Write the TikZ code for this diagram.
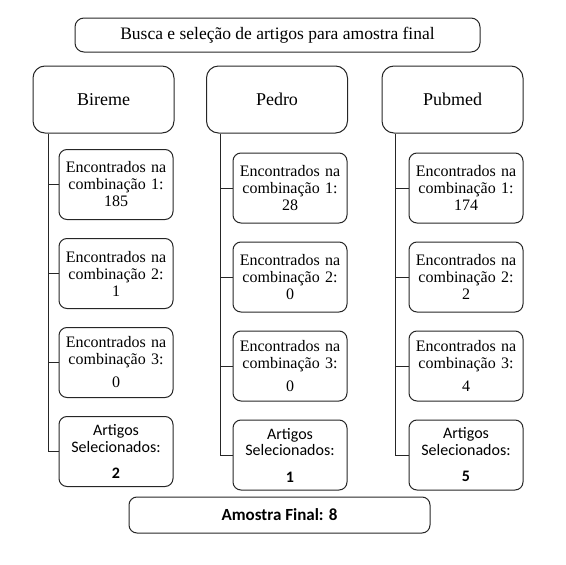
\documentclass[tikz,border=0pt]{standalone}
\usepackage{fontspec}
\setmainfont{Liberation Serif}
\newfontfamily\calibri{Carlito}
\usetikzlibrary{positioning}
\tikzset{
	box_base/.style = {
		rectangle,
		rounded corners=9pt,
		draw=black!85,
		line width=1pt,
		align=center,
		inner sep=0pt,
		text centered
	},
	box_title/.style = {
		box_base,
		font=\fontsize{17.5}{19}\selectfont,
		minimum width=405pt,
		minimum height=34pt
	},
	box_db/.style = {
		box_base,
		rounded corners=12pt,
		font=\fontsize{18}{19}\selectfont,
		minimum width=141pt,
		minimum height=67pt
	},
	box_found/.style = {
		box_base,
		rounded corners=8pt,
		font=\fontsize{16}{17}\selectfont,
		text width=112pt,
		minimum width=114pt,
		minimum height=70pt
	},
	box_sel/.style = {
		box_found,
		font=\calibri\fontsize{16}{16.5}\selectfont
	},
	box_final/.style = {
		box_base,
		rounded corners=8pt,
		font=\calibri\bfseries\fontsize{17}{18}\selectfont,
		minimum width=301pt,
		minimum height=36pt
	},
	spine/.style = {
		draw=black!85,
		line width=1pt
	}
}

\begin{document}
\begin{tikzpicture}[x=1pt,y=-1pt]
\useasboundingbox (0,0) rectangle (566,565);
\node [box_title] (title) at (277.5,35) {Busca e seleção de artigos para amostra final};

% bases
\node [box_db] (bireme) at (103.5,99.5) {Bireme};
\node [box_db] (pedro) at (277,99.5) {Pedro};
\node [box_db] (pubmed) at (452.5,99.5) {Pubmed};

% Bireme
\node [box_found] (bireme_1) at (116,184.5) {Encontrados na\\combinação 1:\\185};
\node [box_found, below=18pt of bireme_1] (bireme_2) {Encontrados na\\combinação 2:\\1};
\node [box_found, below=18pt of bireme_2] (bireme_3) {Encontrados na\\combinação 3:\\[6pt]0};
\node [box_sel, below=18pt of bireme_3] (bireme_4) {Artigos\\Selecionados:\\[10pt]\textbf{2}};

% Pedro
\node [box_found] (pedro_1) at (290,188) {Encontrados na\\combinação 1:\\28};
\node [box_found, below=18pt of pedro_1] (pedro_2) {Encontrados na\\combinação 2:\\0};
\node [box_found, below=18pt of pedro_2] (pedro_3) {Encontrados na\\combinação 3:\\[6pt]0};
\node [box_sel, below=18pt of pedro_3] (pedro_4) {Artigos\\Selecionados:\\[10pt]\textbf{1}};

% Pubmed
\node [box_found] (pubmed_1) at (466,188) {Encontrados na\\combinação 1:\\174};
\node [box_found, below=18pt of pubmed_1] (pubmed_2) {Encontrados na\\combinação 2:\\2};
\node [box_found, below=18pt of pubmed_2] (pubmed_3) {Encontrados na\\combinação 3:\\[6pt]4};
\node [box_sel, below=18pt of pubmed_3] (pubmed_4) {Artigos\\Selecionados:\\[10pt]\textbf{5}};

\node [box_final] (final) at (279.5,515) {Amostra Final: 8};

% connectors
\coordinate (bireme_spine) at ([xshift=16pt]bireme.south west);
\coordinate (pedro_spine) at ([xshift=14pt]pedro.south west);
\coordinate (pubmed_spine) at ([xshift=14pt]pubmed.south west);
\draw [spine] (bireme_spine) |- (bireme_4.west);
\draw [spine] (bireme_1.west) -- (bireme_1.west -| bireme_spine);
\draw [spine] (bireme_2.west) -- (bireme_2.west -| bireme_spine);
\draw [spine] (bireme_3.west) -- (bireme_3.west -| bireme_spine);
\draw [spine] (pedro_spine) |- (pedro_4.west);
\draw [spine] (pedro_1.west) -- (pedro_1.west -| pedro_spine);
\draw [spine] (pedro_2.west) -- (pedro_2.west -| pedro_spine);
\draw [spine] (pedro_3.west) -- (pedro_3.west -| pedro_spine);
\draw [spine] (pubmed_spine) |- (pubmed_4.west);
\draw [spine] (pubmed_1.west) -- (pubmed_1.west -| pubmed_spine);
\draw [spine] (pubmed_2.west) -- (pubmed_2.west -| pubmed_spine);
\draw [spine] (pubmed_3.west) -- (pubmed_3.west -| pubmed_spine);
\end{tikzpicture}
\end{document}
